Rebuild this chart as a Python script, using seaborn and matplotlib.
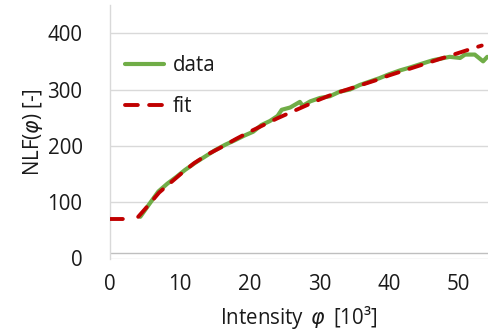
import matplotlib
matplotlib.use("Agg")
import matplotlib.pyplot as plt
import seaborn as sns
import pandas as pd

# measured NLF values versus intensity (in 10^3 units)
data_x = [4.3, 5.5, 6.9, 8.2, 9.5, 10.7, 12.2, 13.6, 15.0, 16.5, 17.9, 19.2,
          20.5, 21.7, 22.9, 24.0, 24.6, 25.8, 27.2, 27.6, 28.7, 30.1, 31.5,
          32.9, 34.4, 35.8, 37.2, 38.6, 40.0, 41.6, 43.0, 44.5, 46.3, 47.5,
          48.7, 50.2, 50.9, 52.3, 53.5, 54.1]
data_y = [74, 95, 119, 133, 145, 157, 170, 181, 192, 202, 210, 218,
          225, 237, 244, 253, 264, 268, 278, 271, 279, 285, 288,
          296, 300, 308, 314, 320, 327, 334, 339, 345, 352, 355,
          358, 356, 362, 362, 350, 358]

# fitted model: constant floor, then the fitted curve
fit_floor_x = [0, 1.9]
fit_floor_y = [71, 71]
fit_curve_x = [4.0, 5.5, 7.0, 8.6, 10.2, 12, 14, 16, 18, 20, 22, 24, 26, 28,
               30, 32, 34, 36, 38, 40, 42, 44, 46, 48, 50, 52, 53.3]
fit_curve_y = [74, 95, 117, 134, 151, 169, 185, 198, 212, 225, 237, 249, 260,
               271, 282, 292, 300, 308, 316, 325, 333, 341, 349, 357, 365, 373,
               378]

x_ticks = [0, 10, 20, 30, 40, 50]
y_ticks = [0, 100, 200, 300, 400]

sns.set_style("white")
plt.rcParams["font.family"] = ["Open Sans", "DejaVu Sans"]
plt.rcParams["mathtext.fontset"] = "dejavusans"

fig = plt.figure(figsize=(4.88, 3.36), dpi=100)
ax = fig.add_axes([110.3 / 488, (336 - 258.5) / 336,
                   (488 - 110.3) / 488, 253.5 / 336])

green = "#70AD47"
red = "#C00000"
txt = "#1a1a1a"

df_data = pd.DataFrame({"x": data_x, "y": data_y})
df_floor = pd.DataFrame({"x": fit_floor_x, "y": fit_floor_y})
df_curve = pd.DataFrame({"x": fit_curve_x, "y": fit_curve_y})

sns.lineplot(data=df_data, x="x", y="y", ax=ax, color=green, lw=3.0,
             label="data", zorder=3)
dash = (3.3, 2.9)
sns.lineplot(data=df_floor, x="x", y="y", ax=ax, color=red, lw=2.8,
             zorder=4, linestyle=(0, dash), dash_capstyle="round",
             legend=False)
sns.lineplot(data=df_curve, x="x", y="y", ax=ax, color=red, lw=2.8,
             zorder=4, linestyle=(0, dash), dash_capstyle="round",
             label="fit")

ax.set_xlim(0, 54.2)
ax.set_ylim(0, 450)
ax.set_xticks(x_ticks)
ax.set_yticks(y_ticks)
ax.grid(axis="y", color="#D9D9D9", lw=1.0)
ax.grid(axis="x", visible=False)
ax.axhline(9.5, color="#BFBFBF", lw=1.0, zorder=2)

for s in ["top", "right", "bottom"]:
    ax.spines[s].set_visible(False)
ax.spines["left"].set_color("#D9D9D9")
ax.spines["left"].set_linewidth(1.0)

ax.tick_params(axis="both", length=0, labelsize=14.8, colors=txt)
ax.tick_params(axis="y", pad=20)
ax.tick_params(axis="x", pad=11.5)

ax.set_xlabel(r"Intensity $\,\varphi\,$ [10³]", fontsize=14.8, labelpad=6,
              color=txt)
ax.set_ylabel(r"NLF($\varphi$) [-]", fontsize=14.8, labelpad=2, color=txt)

leg = ax.legend(loc="upper left", bbox_to_anchor=(0.0, 0.86), frameon=False,
                fontsize=14.8, handlelength=1.9, handletextpad=0.45,
                labelspacing=1.0, borderaxespad=0.3)
for t in leg.get_texts():
    t.set_color(txt)
for h in leg.get_lines():
    h.set_solid_capstyle("round")

fig.savefig("out.png", dpi=100)
